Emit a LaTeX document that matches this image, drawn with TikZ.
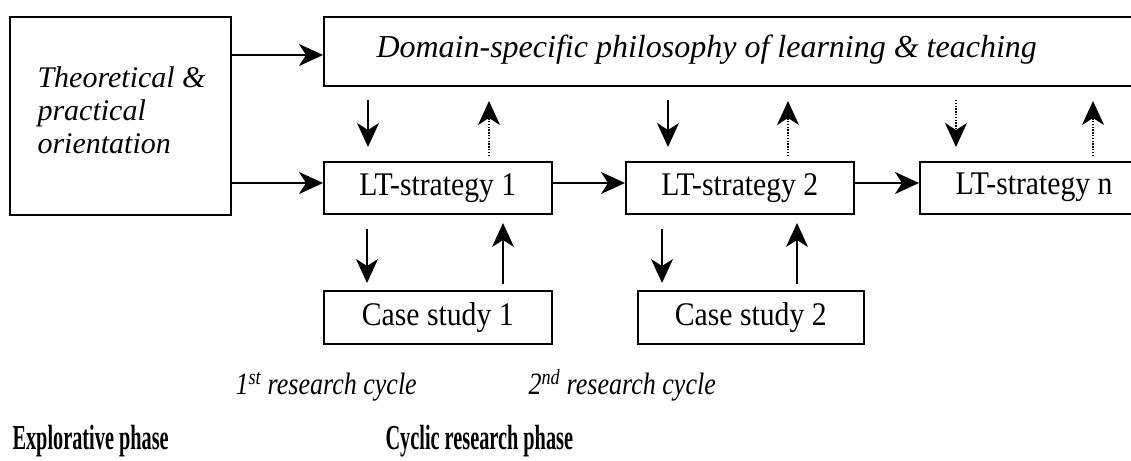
\documentclass[tikz,border=0pt]{standalone}
\usepackage{fontspec}
\setmainfont{Liberation Serif}[
  ItalicFont={Liberation Serif Italic},
  BoldFont={Liberation Serif Bold}]
\usetikzlibrary{arrows.meta}
\newcommand{\hsq}[2]{\scalebox{#1}[1]{#2}}
\begin{document}
\begin{tikzpicture}[x=1pt,y=-1pt,
  box/.style={draw,line width=1.6pt,anchor=north west,inner sep=0pt},
  arr/.style={line width=1.5pt,-{Stealth[length=24pt,width=22pt,inset=7pt]}},
  darr/.style={arr,dash pattern=on 1.4pt off 1.4pt},
  lbl/.style={font=\fontsize{33}{36}\selectfont},
  ilbl/.style={font=\fontsize{30}{33}\selectfont\itshape},
  tlbl/.style={font=\fontsize{32}{35}\selectfont\itshape},
  rlbl/.style={font=\fontsize{31}{34}\selectfont\itshape},
  blbl/.style={font=\fontsize{35}{38}\selectfont\bfseries}]
\useasboundingbox (0,0) rectangle (1131,460);
% boxes
\node[box,minimum width=221pt,minimum height=198pt] (left) at (9,16) {};
\node[ilbl,anchor=base west] (lefttxt) at (34,87) {Theoretical \&};
\node[ilbl,anchor=base west] (lefttxt2) at (34,120) {practical};
\node[ilbl,anchor=base west] (lefttxt3) at (34,153) {orientation};
\node[box,minimum width=820pt,minimum height=69pt] (top) at (323,16) {};
\node[tlbl,anchor=base west] (toptxt) at (373,58) {Domain-specific philosophy of learning \& teaching};
\node[box,minimum width=228pt,minimum height=52pt,lbl] (lt1) at (323,161) {\hsq{0.9}{LT-strategy 1}};
\node[box,minimum width=228pt,minimum height=52pt,lbl] (lt2) at (625,161) {\hsq{0.9}{LT-strategy 2}};
\node[box,minimum width=230pt,minimum height=52pt] (ltn) at (919,161) {};
\node[lbl,anchor=center] (ltntxt) at (1034,187) {\hsq{0.9}{LT-strategy n}};
\node[box,minimum width=228pt,minimum height=53pt,lbl] (cs1) at (323,290) {\hsq{0.9}{Case study 1}};
\node[box,minimum width=226pt,minimum height=53pt,lbl] (cs2) at (637,290) {\hsq{0.9}{Case study 2}};
% labels
\node[rlbl,anchor=base west] (rc1) at (232,394) {\hsq{0.84}{1\textsuperscript{st} research cycle}};
\node[rlbl,anchor=base west] (rc2) at (525,394) {\hsq{0.84}{2\textsuperscript{nd} research cycle}};
\node[blbl,anchor=base west] (exp) at (9,449) {\hsq{0.58}{Explorative phase}};
\node[blbl,anchor=base west] (cyc) at (382,449) {\hsq{0.58}{Cyclic research phase}};
% horizontal arrows
\coordinate (ya) at (0,55);
\coordinate (yb) at (0,183);
\draw[arr] (left.east |- ya) -- (top.west |- ya);
\draw[arr] (left.east |- yb) -- (lt1.west |- yb);
\draw[arr] (lt1.east |- yb) -- (lt2.west |- yb);
\draw[arr] (lt2.east |- yb) -- (ltn.west |- yb);
% between top box and LT boxes
\coordinate (d1s) at (368,100); \coordinate (d1e) at (368,147);
\coordinate (u1s) at (489,156); \coordinate (u1e) at (489,101);
\coordinate (d2s) at (668,100); \coordinate (d2e) at (668,147);
\coordinate (u2s) at (788,156); \coordinate (u2e) at (788,101);
\coordinate (d3s) at (956,100); \coordinate (d3e) at (956,147);
\coordinate (u3s) at (1093,156); \coordinate (u3e) at (1093,101);
\draw[arr] (d1s) -- (d1e);
\draw[darr] (u1s) -- (u1e);
\draw[arr] (d2s) -- (d2e);
\draw[darr] (u2s) -- (u2e);
\draw[darr] (d3s) -- (d3e);
\draw[darr] (u3s) -- (u3e);
% between LT boxes and case studies
\coordinate (c1ds) at (367,229); \coordinate (c1de) at (367,283);
\coordinate (c1us) at (503,284); \coordinate (c1ue) at (503,223);
\coordinate (c2ds) at (662,229); \coordinate (c2de) at (662,283);
\coordinate (c2us) at (797,284); \coordinate (c2ue) at (797,223);
\draw[arr] (c1ds) -- (c1de);
\draw[arr] (c1us) -- (c1ue);
\draw[arr] (c2ds) -- (c2de);
\draw[arr] (c2us) -- (c2ue);
\end{tikzpicture}
\end{document}
